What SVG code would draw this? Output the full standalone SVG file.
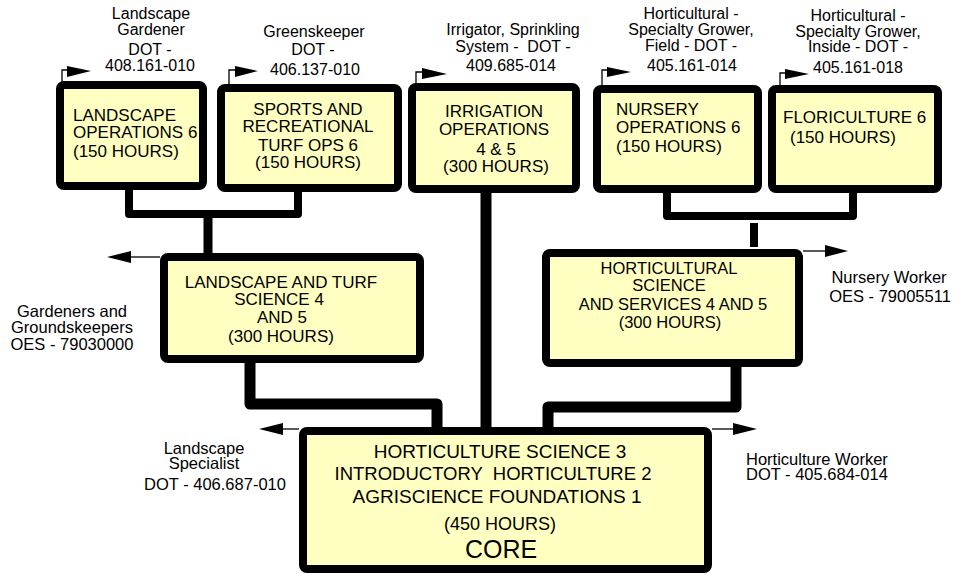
<svg xmlns="http://www.w3.org/2000/svg" width="957" height="574" viewBox="0 0 957 574">
<style>
text{font-family:"Liberation Sans",Arial,sans-serif;fill:#000;font-size:17px}
.lbl{font-size:16px}
.side{font-size:16.5px}
.m{text-anchor:middle}
.box{fill:#FFFFC2;stroke:#000;stroke-width:8;stroke-linejoin:round}
.thick{fill:none;stroke:#000;stroke-linejoin:round}
.thin{fill:none;stroke:#000;stroke-width:1.3}
.head{fill:#000;stroke:none}
</style>
<rect width="957" height="574" fill="#fff"/>
<g id="connectors">
<path class="thick" stroke-width="8" d="M129,188 V214 H298 V190"/>
<path class="thick" stroke-width="9" d="M208,214 V255"/>
<path class="thick" stroke-width="11" d="M486,190 V429"/>
<path class="thick" stroke-width="8" d="M667,190 V216 H853 V190"/>
<path class="thick" stroke-width="8" d="M754,223 V247"/>
<path class="thick" stroke-width="11" d="M250,360 V404 H437 V429"/>
<path class="thick" stroke-width="11" d="M736,364 V407 H548 V427"/>
<path class="thin" d="M160,257 H131"/><polygon class="head" points="131,251 107,257 131,263"/>
<path class="thin" d="M803,251 H825"/><polygon class="head" points="825,245 848,251 825,257"/>
<path class="thin" d="M299,429 H283"/><polygon class="head" points="283,423 259,429 283,435"/>
<path class="thin" d="M712,429 H733"/><polygon class="head" points="733,423 757,429 733,435"/>
<path class="thin" stroke-width="2" d="M62,82 V70 H67"/><polygon class="head" points="67,66 91,71 67,77"/>
<path class="thin" stroke-width="2" d="M229,85 V70 H235"/><polygon class="head" points="235,66 258,71 235,77"/>
<path class="thin" stroke-width="2" d="M416,84 V72 H422"/><polygon class="head" points="422,68 447,74 422,79"/>
<path class="thin" stroke-width="2" d="M602,86 V70 H607"/><polygon class="head" points="607,67 631,72 607,77"/>
<path class="thin" stroke-width="2" d="M780,86 V73 H785"/><polygon class="head" points="785,69 809,74 785,79"/>
</g>
<g id="landscape-ops">
<rect class="box" x="60" y="85" width="143" height="101" rx="4"/>
<text x="73" y="121">LANDSCAPE</text>
<text x="73" y="138">OPERATIONS 6</text>
<text x="73" y="157">(150 HOURS)</text>
</g>
<g id="sports-turf">
<rect class="box" x="221" y="88" width="177" height="100" rx="4"/>
<text class="m" x="308" y="115">SPORTS AND</text>
<text class="m" x="308" y="132">RECREATIONAL</text>
<text class="m" x="308" y="151">TURF OPS 6</text>
<text class="m" x="308" y="168">(150 HOURS)</text>
</g>
<g id="irrigation">
<rect class="box" x="412" y="87" width="164" height="102" rx="4"/>
<text class="m" x="494" y="117">IRRIGATION</text>
<text class="m" x="494" y="135">OPERATIONS</text>
<text class="m" x="496" y="155">4 &amp; 5</text>
<text class="m" x="496" y="172">(300 HOURS)</text>
</g>
<g id="nursery">
<rect class="box" x="597" y="89" width="161" height="100" rx="4"/>
<text x="616" y="115">NURSERY</text>
<text x="616" y="133">OPERATIONS 6</text>
<text x="616" y="152">(150 HOURS)</text>
</g>
<g id="floriculture">
<rect class="box" x="772" y="89" width="166" height="100" rx="4"/>
<text x="783" y="123">FLORICULTURE 6</text>
<text x="790" y="143">(150 HOURS)</text>
</g>
<g id="landscape-turf">
<rect class="box" x="164" y="257" width="256" height="102" rx="4"/>
<text class="m" x="281" y="288">LANDSCAPE AND TURF</text>
<text class="m" x="279" y="305">SCIENCE 4</text>
<text class="m" x="282" y="323">AND 5</text>
<text class="m" x="281" y="342">(300 HOURS)</text>
</g>
<g id="hort-science">
<rect class="box" x="546" y="253" width="253" height="110" rx="4"/>
<text class="m" x="669" y="274" style="font-size:16.5px">HORTICULTURAL</text>
<text class="m" x="669" y="291" style="font-size:16.5px">SCIENCE</text>
<text class="m" x="673" y="310" style="font-size:16.5px">AND SERVICES 4 AND 5</text>
<text class="m" x="670" y="328" style="font-size:16.5px">(300 HOURS)</text>
</g>
<g id="core">
<rect class="box" x="303" y="431" width="405" height="138" rx="4"/>
<text class="m" x="500" y="458" style="font-size:19px">HORTICULTURE SCIENCE 3</text>
<text class="m" x="493" y="480" style="font-size:18.5px" xml:space="preserve">INTRODUCTORY  HORTICULTURE 2</text>
<text class="m" x="497" y="503" style="font-size:19px">AGRISCIENCE FOUNDATIONS 1</text>
<text class="m" x="500" y="530" style="font-size:18px">(450 HOURS)</text>
<text class="m" x="501" y="558" style="font-size:25px">CORE</text>
</g>
<g id="label-landscape-gardener">
<text class="m lbl" x="151" y="19">Landscape</text>
<text class="m lbl" x="151" y="35">Gardener</text>
<text class="m lbl" x="150" y="55">DOT -</text>
<text class="m lbl" x="150" y="71">408.161-010</text>
</g>
<g id="label-greenskeeper">
<text class="m lbl" x="314" y="37">Greenskeeper</text>
<text class="m lbl" x="313" y="55">DOT -</text>
<text class="m lbl" x="315" y="75">406.137-010</text>
</g>
<g id="label-irrigator">
<text class="m lbl" x="513" y="35">Irrigator, Sprinkling</text>
<text class="m lbl" x="513" y="52" xml:space="preserve">System -  DOT -</text>
<text class="m lbl" x="511" y="71">409.685-014</text>
</g>
<g id="label-hort-field">
<text class="m lbl" x="691" y="19">Horticultural -</text>
<text class="m lbl" x="691" y="35">Specialty Grower,</text>
<text class="m lbl" x="691" y="51">Field - DOT -</text>
<text class="m lbl" x="692" y="71">405.161-014</text>
</g>
<g id="label-hort-inside">
<text class="m lbl" x="858" y="21">Horticultural -</text>
<text class="m lbl" x="858" y="37">Specialty Grower,</text>
<text class="m lbl" x="858" y="52">Inside - DOT -</text>
<text class="m lbl" x="858" y="73">405.161-018</text>
</g>
<g id="label-gardeners">
<text class="m side" x="72" y="317">Gardeners and</text>
<text class="m side" x="72" y="333">Groundskeepers</text>
<text class="m side" x="72" y="350">OES - 79030000</text>
</g>
<g id="label-nursery-worker">
<text class="m side" x="889" y="283">Nursery Worker</text>
<text class="m side" x="890" y="302">OES - 79005511</text>
</g>
<g id="label-landscape-specialist">
<text class="m side" x="204" y="454">Landscape</text>
<text class="m side" x="204" y="469">Specialist</text>
<text class="m side" x="215" y="490">DOT - 406.687-010</text>
</g>
<g id="label-hort-worker">
<text class="side" x="746" y="465">Horticulture Worker</text>
<text class="side" x="746" y="480">DOT - 405.684-014</text>
</g>
</svg>
